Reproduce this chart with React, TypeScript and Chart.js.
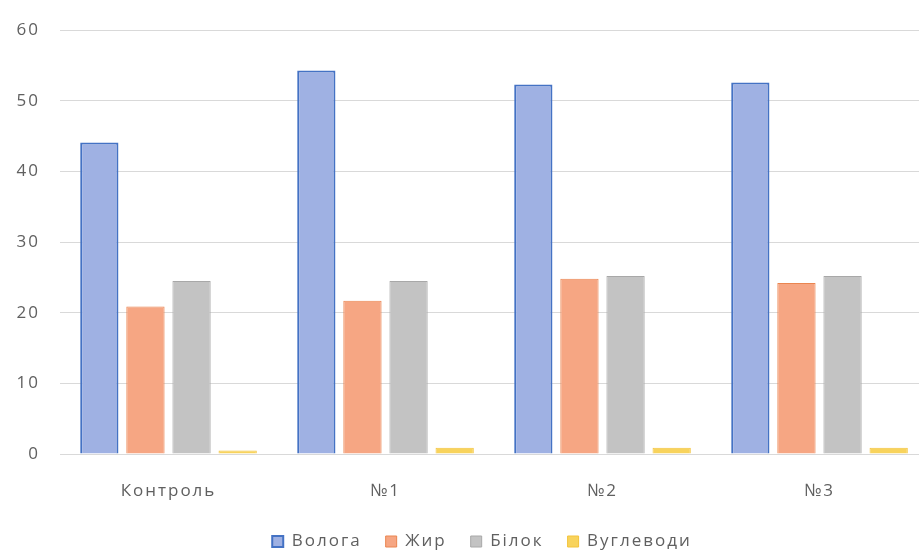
import React, { useEffect, useRef } from "react";
import { Chart, registerables } from "chart.js";

Chart.register(...registerables);

const categories = ["Контроль", "№1", "№2", "№3"];
const seriesNames = ["Вологa", "Жир", "Білок", "Вуглеводи"];
const vologa = [44.1, 54.3, 52.3, 52.6];
const zhyr = [20.9, 21.7, 24.8, 24.2];
const bilok = [24.5, 24.5, 25.2, 25.2];
const vuhlevody = [0.5, 0.9, 0.9, 0.9];
const yTicks = [0, 10, 20, 30, 40, 50, 60];

const spacingPlugin = {
  id: "spacing",
  beforeLayout(chart: any) { chart.ctx.letterSpacing = "2px"; },
  beforeDraw(chart: any) { chart.ctx.letterSpacing = "2px"; },
};
const shiftLegend = {
  id: "shiftLegend",
  afterLayout(chart: any) {
    if (chart.legend) { chart.legend.left += 18; chart.legend.right += 18; }
  },
};

export default function App() {
  const ref = useRef<HTMLCanvasElement | null>(null);
  useEffect(() => {
    if (!ref.current) return;
    const font = { family: "'Open Sans', 'Noto Sans', sans-serif", size: 17 };
    const chart = new Chart(ref.current, {
      type: "bar",
      data: {
        labels: categories,
        datasets: [
          { data: vologa, backgroundColor: "#9fb1e3", borderColor: "#4472c4", borderWidth: 2 },
          { data: zhyr, backgroundColor: "#f6a683", borderColor: "#ea8550", borderWidth: 1 },
          { data: bilok, backgroundColor: "#c3c3c3", borderColor: "#a8a8a8", borderWidth: 1 },
          { data: vuhlevody, backgroundColor: "#f8d35c", borderColor: "#f3c33c", borderWidth: 1 },
        ].map((d, i) => ({ ...d, label: seriesNames[i], categoryPercentage: 0.85, barPercentage: 0.83 })),
      },
      plugins: [spacingPlugin, shiftLegend],
      options: {
        animation: false,
        responsive: true,
        maintainAspectRatio: false,
        layout: { padding: { left: 0, right: 32, top: 30, bottom: 0 } },
        plugins: {
          tooltip: { enabled: false },
          legend: {
            position: "bottom",
            labels: {
              boxWidth: 11,
              boxHeight: 11,
              padding: 24,
              color: "#606060",
              font,
            },
          },
        },
        scales: {
          x: {
            grid: { display: false },
            border: { display: true, color: "#d9d9d9", width: 1 },
            ticks: { color: "#606060", font, padding: 19 },
            afterFit: (s: any) => { s.height = 55; },
          },
          y: {
            min: 0,
            max: 60,
            afterFit: (s: any) => { s.width = 60; },
            afterBuildTicks: (s: any) => { s.ticks = yTicks.map((v) => ({ value: v })); },
            grid: { color: "#d9d9d9", drawTicks: false },
            border: { display: false },
            ticks: { color: "#606060", font, padding: 20 },
          },
        },
      },
    });
    return () => chart.destroy();
  }, []);
  return (
    <div style={{ position: "fixed", left: 0, top: 0, width: 919, height: 552, overflow: "hidden", background: "#fff" }}>
      <div style={{ position: "relative", width: 960, height: 560 }}>
        <canvas ref={ref} />
      </div>
    </div>
  );
}
